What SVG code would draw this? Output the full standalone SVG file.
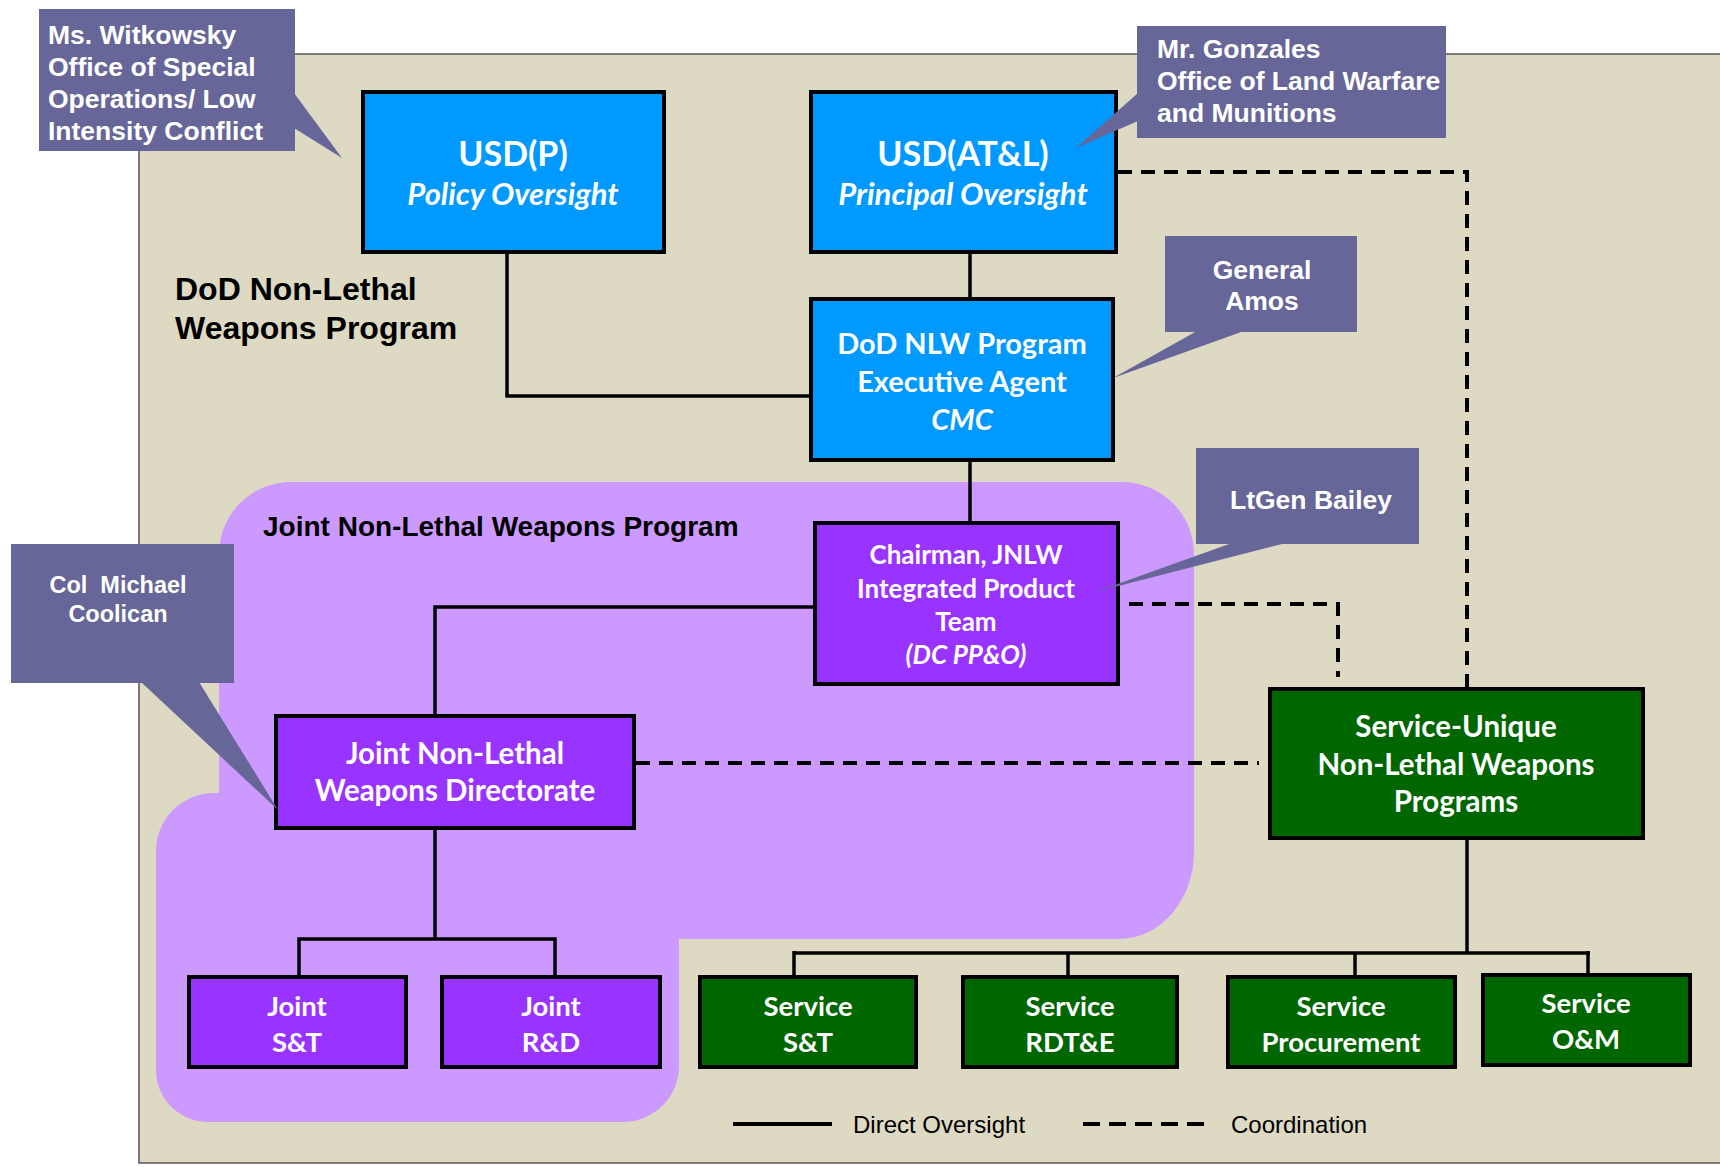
<svg xmlns="http://www.w3.org/2000/svg" width="1720" height="1167" viewBox="0 0 1720 1167">
<style>
.box{stroke:#000;stroke-width:4}
.blue{fill:#0099FF}
.purp{fill:#9933FF}
.green{fill:#006600}
.call{fill:#666699}
.nt{font-family:Lato,"Open Sans",sans-serif;font-weight:bold;fill:#fff;text-anchor:middle}
.it{font-style:italic}
.ct{font-family:"Liberation Sans",Arial,sans-serif;font-weight:bold;fill:#fff;font-size:26.5px}
.ct.sm{font-size:23.5px}
.lbl{font-family:"Liberation Sans",Arial,sans-serif;font-weight:bold;fill:#000}
.leg{font-family:"Liberation Sans",Arial,sans-serif;fill:#000;font-size:24px}
.solid{fill:none;stroke:#000;stroke-width:3.5}
.dash{fill:none;stroke:#000;stroke-width:4;stroke-dasharray:14 9}
</style>
<rect x="0" y="0" width="1720" height="1167" fill="#fff"/>
<rect id="dod-program-area" x="139" y="54" width="1600" height="1109" fill="#DDD9C3" stroke="#555" stroke-width="1.5"/>
<path id="jnlw-program-area" d="M 291 482 H 1122 A 72 72 0 0 1 1194 554 V 852 A 75 87 0 0 1 1119 939 H 679 V 1066 A 56 56 0 0 1 623 1122 H 208 A 52 52 0 0 1 156 1070 V 851 A 58 58 0 0 1 214 793 H 219 V 554 A 72 72 0 0 1 291 482 Z" fill="#CC99FF"/>
<text class="lbl" x="175" y="300" font-size="32">DoD Non-Lethal</text>
<text class="lbl" x="175" y="339" font-size="32">Weapons Program</text>
<text class="lbl" x="263" y="536" font-size="28">Joint Non-Lethal Weapons Program</text>

<g id="connectors">
<polyline class="solid" points="507,252 507,396 811,396"/>
<line class="solid" x1="970" y1="252" x2="970" y2="299"/>
<line class="solid" x1="970" y1="460" x2="970" y2="523"/>
<polyline class="solid" points="815,607 435,607 435,716"/>
<line class="solid" x1="435" y1="828" x2="435" y2="939"/>
<polyline class="solid" points="299,977 299,939 555,939 555,977"/>
<line class="solid" x1="1467" y1="838" x2="1467" y2="953"/>
<line class="solid" x1="794" y1="953" x2="1590" y2="953"/>
<line class="solid" x1="794" y1="951" x2="794" y2="977"/>
<line class="solid" x1="1068" y1="953" x2="1068" y2="977"/>
<line class="solid" x1="1355" y1="953" x2="1355" y2="977"/>
<line class="solid" x1="1588" y1="951" x2="1588" y2="975"/>
<polyline class="dash" points="1118,172 1467,172 1467,689"/>
<polyline class="dash" points="1129,604 1338,604 1338,677"/>
<line class="dash" x1="636" y1="763" x2="1259" y2="763"/>
</g>

<g id="usd-p">
<rect class="box blue" x="363" y="92" width="301" height="160"/>
<text class="nt" x="513" y="166" font-size="34">USD(P)</text>
<text class="nt it" x="513" y="205" font-size="31">Policy Oversight</text>
</g>
<g id="usd-atl">
<rect class="box blue" x="811" y="92" width="305" height="160"/>
<text class="nt" x="963" y="166" font-size="34">USD(AT&amp;L)</text>
<text class="nt it" x="963" y="205" font-size="31">Principal Oversight</text>
</g>
<g id="dod-nlw-ea">
<rect class="box blue" x="811" y="299" width="302" height="161"/>
<text class="nt" x="962" y="354" font-size="29">DoD NLW Program</text>
<text class="nt" x="962" y="392" font-size="29">Executive Agent</text>
<text class="nt it" x="962" y="430" font-size="29">CMC</text>
</g>
<g id="chairman-ipt">
<rect class="box purp" x="815" y="523" width="303" height="161"/>
<text class="nt" x="966" y="564" font-size="26">Chairman, JNLW</text>
<text class="nt" x="966" y="598" font-size="26">Integrated Product</text>
<text class="nt" x="966" y="631" font-size="26">Team</text>
<text class="nt it" x="966" y="664" font-size="26">(DC PP&amp;O)</text>
</g>
<g id="jnlwd">
<rect class="box purp" x="276" y="716" width="358" height="112"/>
<text class="nt" x="455" y="764" font-size="29.5">Joint Non-Lethal</text>
<text class="nt" x="455" y="801" font-size="29.5">Weapons Directorate</text>
</g>
<g id="service-unique">
<rect class="box green" x="1270" y="689" width="373" height="149"/>
<text class="nt" x="1456" y="737" font-size="29.5">Service-Unique</text>
<text class="nt" x="1456" y="775" font-size="29.5">Non-Lethal Weapons</text>
<text class="nt" x="1456" y="812" font-size="29.5">Programs</text>
</g>
<g id="joint-st">
<rect class="box purp" x="189" y="977" width="217" height="90"/>
<text class="nt" x="297" y="1016" font-size="27.5">Joint</text>
<text class="nt" x="297" y="1052" font-size="27.5">S&amp;T</text>
</g>
<g id="joint-rd">
<rect class="box purp" x="442" y="977" width="218" height="90"/>
<text class="nt" x="551" y="1016" font-size="27.5">Joint</text>
<text class="nt" x="551" y="1052" font-size="27.5">R&amp;D</text>
</g>
<g id="service-st">
<rect class="box green" x="700" y="977" width="216" height="90"/>
<text class="nt" x="808" y="1016" font-size="27.5">Service</text>
<text class="nt" x="808" y="1052" font-size="27.5">S&amp;T</text>
</g>
<g id="service-rdte">
<rect class="box green" x="963" y="977" width="214" height="90"/>
<text class="nt" x="1070" y="1016" font-size="27.5">Service</text>
<text class="nt" x="1070" y="1052" font-size="27.5">RDT&amp;E</text>
</g>
<g id="service-procurement">
<rect class="box green" x="1228" y="977" width="227" height="90"/>
<text class="nt" x="1341" y="1016" font-size="27.5">Service</text>
<text class="nt" x="1341" y="1052" font-size="27.5">Procurement</text>
</g>
<g id="service-om">
<rect class="box green" x="1483" y="975" width="207" height="90"/>
<text class="nt" x="1586" y="1013" font-size="27.5">Service</text>
<text class="nt" x="1586" y="1049" font-size="27.5">O&amp;M</text>
</g>

<g id="callout-witkowsky">
<rect class="call" x="39" y="9" width="256" height="142"/>
<polygon class="call" points="294,93 342,158 294,128"/>
<text class="ct" x="48" y="44">Ms. Witkowsky</text>
<text class="ct" x="48" y="76">Office of Special</text>
<text class="ct" x="48" y="108">Operations/ Low</text>
<text class="ct" x="48" y="140">Intensity Conflict</text>
</g>
<g id="callout-gonzales">
<rect class="call" x="1137" y="26" width="309" height="112"/>
<polygon class="call" points="1138,93 1076,148 1138,121"/>
<text class="ct" x="1157" y="58">Mr. Gonzales</text>
<text class="ct" x="1157" y="90">Office of Land Warfare</text>
<text class="ct" x="1157" y="122">and Munitions</text>
</g>
<g id="callout-amos">
<rect class="call" x="1165" y="236" width="192" height="96"/>
<polygon class="call" points="1197,331 1113,378 1244,331"/>
<text class="ct" x="1262" y="279" text-anchor="middle">General</text>
<text class="ct" x="1262" y="310" text-anchor="middle">Amos</text>
</g>
<g id="callout-bailey">
<rect class="call" x="1196" y="448" width="223" height="96"/>
<polygon class="call" points="1232,543 1095,592 1286,543"/>
<text class="ct" x="1311" y="509" text-anchor="middle">LtGen Bailey</text>
</g>
<g id="callout-coolican">
<rect class="call" x="11" y="544" width="223" height="139"/>
<polygon class="call" points="141,682 278,810 199,682"/>
<text class="ct sm" x="118" y="593" text-anchor="middle" xml:space="preserve">Col  Michael</text>
<text class="ct sm" x="118" y="622" text-anchor="middle">Coolican</text>
</g>

<g id="legend">
<line x1="733" y1="1124" x2="832" y2="1124" stroke="#000" stroke-width="4"/>
<text class="leg" x="853" y="1133">Direct Oversight</text>
<line x1="1083" y1="1124" x2="1211" y2="1124" stroke="#000" stroke-width="4" stroke-dasharray="17 9"/>
<text class="leg" x="1231" y="1133">Coordination</text>
</g>
</svg>
